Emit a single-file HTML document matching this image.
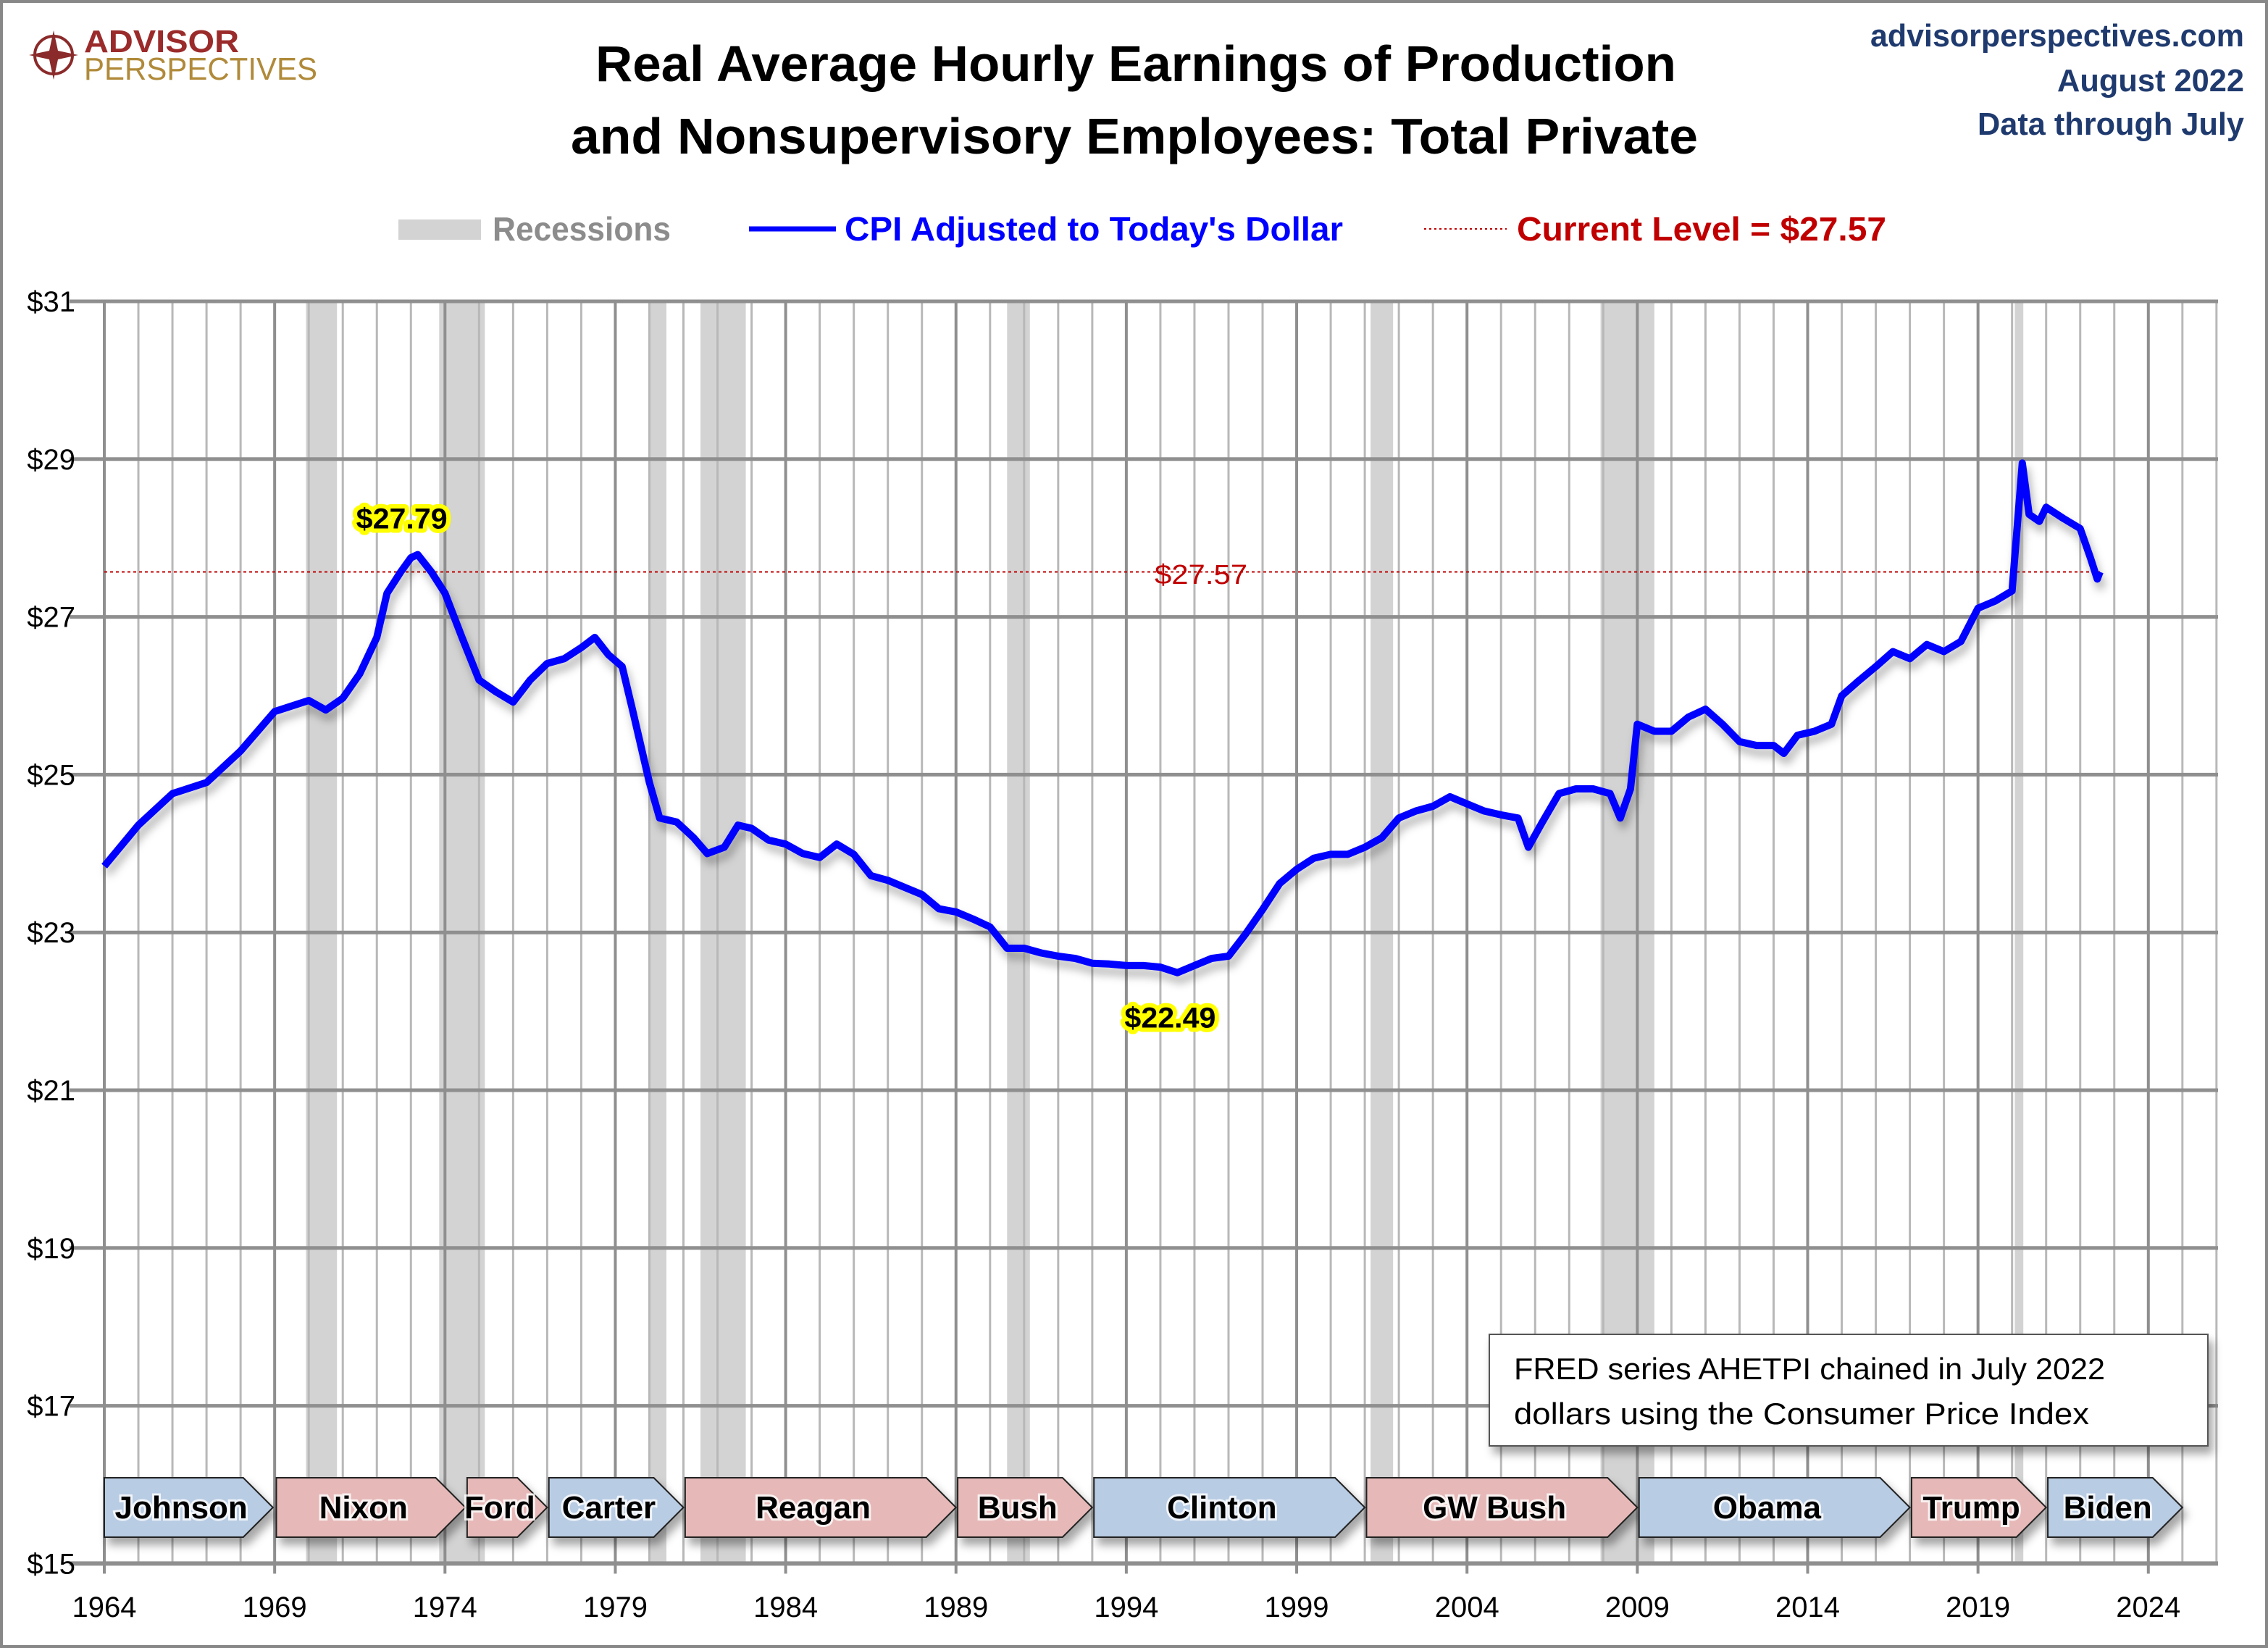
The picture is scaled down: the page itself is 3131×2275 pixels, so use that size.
<!DOCTYPE html>
<html><head><meta charset="utf-8"><style>
html,body{margin:0;padding:0;background:#fff;}
svg{display:block;font-family:"Liberation Sans",Arial,sans-serif;}
</style></head><body>
<svg id="chart" width="3131" height="2275" viewBox="0 0 3131 2275" xmlns="http://www.w3.org/2000/svg">
<defs>
<filter id="sh" x="-10%" y="-10%" width="130%" height="140%"><feDropShadow dx="6" dy="10" stdDeviation="6" flood-color="#000" flood-opacity="0.35"/></filter>
<filter id="lsh" x="-5%" y="-5%" width="110%" height="120%"><feDropShadow dx="4" dy="10" stdDeviation="6" flood-color="#000" flood-opacity="0.3"/></filter>
</defs>
<rect x="2" y="2" width="3127" height="2271" fill="#fff" stroke="#888" stroke-width="4"/>
<g id="logo">
<circle cx="74" cy="76" r="26" fill="none" stroke="#8B2A2A" stroke-width="4"/>
<polygon points="74,42 80,70 108,76 80,82 74,110 68,82 40,76 68,70" fill="#8B2A2A"/>
<text x="116" y="72" font-size="44" font-weight="bold" fill="#9B2B2B" textLength="214" lengthAdjust="spacingAndGlyphs">ADVISOR</text>
<text x="116" y="110" font-size="44" fill="#B08A3A" textLength="322" lengthAdjust="spacingAndGlyphs">PERSPECTIVES</text>
</g>
<g font-weight="bold" font-size="70" fill="#000" text-anchor="middle">
<text x="1568" y="112" textLength="1492" lengthAdjust="spacingAndGlyphs">Real Average Hourly Earnings of Production</text>
<text x="1566" y="212" textLength="1556" lengthAdjust="spacingAndGlyphs">and Nonsupervisory Employees: Total Private</text>
</g>
<g font-weight="bold" font-size="44" fill="#1F3A6E" text-anchor="end">
<text x="3098" y="64" textLength="516" lengthAdjust="spacingAndGlyphs">advisorperspectives.com</text>
<text x="3098" y="126" textLength="258" lengthAdjust="spacingAndGlyphs">August 2022</text>
<text x="3098" y="186" textLength="368" lengthAdjust="spacingAndGlyphs">Data through July</text>
</g>
<g font-weight="bold" font-size="46">
<rect x="550" y="303" width="114" height="28" fill="#D3D3D3"/>
<text x="680" y="332" fill="#8C8C8C" textLength="246" lengthAdjust="spacingAndGlyphs">Recessions</text>
<line x1="1034" y1="316" x2="1154" y2="316" stroke="#0000FF" stroke-width="7"/>
<text x="1166" y="332" fill="#0000FF" textLength="688" lengthAdjust="spacingAndGlyphs">CPI Adjusted to Today's Dollar</text>
<line x1="1966" y1="316" x2="2080" y2="316" stroke="#C00000" stroke-width="2" stroke-dasharray="3,4"/>
<text x="2094" y="332" fill="#C00000" textLength="510" lengthAdjust="spacingAndGlyphs">Current Level = $27.57</text>
</g>
<g id="recG"></g>
<g id="gridG"></g>
<g id="axisG"></g>
<g id="presG"></g>
<g id="lineG"></g>
<g id="annG"></g>
</svg>
<script>
const NS="http://www.w3.org/2000/svg";
const years=[1964.0,1965.0,1966.0,1967.0,1968.0,1969.0,1970.0,1970.5,1971.0,1971.5,1972.0,1972.3,1972.7,1973.0,1973.2,1973.6,1974.0,1974.5,1975.0,1975.5,1976.0,1976.5,1977.0,1977.5,1978.0,1978.4,1978.8,1979.2,1979.5,1980.0,1980.3,1980.8,1981.3,1981.7,1982.2,1982.6,1983.0,1983.5,1984.0,1984.5,1985.0,1985.5,1986.0,1986.5,1987.0,1987.5,1988.0,1988.5,1989.0,1989.5,1990.0,1990.5,1991.0,1991.5,1992.0,1992.5,1993.0,1993.5,1994.0,1994.5,1995.0,1995.5,1996.0,1996.5,1997.0,1997.5,1998.0,1998.5,1999.0,1999.5,2000.0,2000.5,2001.0,2001.5,2002.0,2002.5,2003.0,2003.5,2004.0,2004.5,2005.0,2005.5,2005.8,2006.2,2006.7,2007.2,2007.7,2008.2,2008.5,2008.8,2009.0,2009.5,2010.0,2010.5,2011.0,2011.5,2012.0,2012.5,2013.0,2013.3,2013.7,2014.2,2014.7,2015.0,2015.5,2016.0,2016.5,2017.0,2017.5,2018.0,2018.5,2019.0,2019.5,2020.0,2020.3,2020.5,2020.8,2021.0,2021.5,2022.0,2022.3,2022.5,2022.58];
const wages=[23.84,24.36,24.76,24.9,25.3,25.8,25.94,25.82,25.97,26.28,26.74,27.3,27.57,27.75,27.79,27.57,27.3,26.74,26.2,26.05,25.92,26.2,26.41,26.47,26.61,26.74,26.52,26.37,25.83,24.9,24.45,24.4,24.2,24.0,24.08,24.36,24.32,24.17,24.12,24.0,23.95,24.12,23.99,23.72,23.66,23.57,23.48,23.3,23.26,23.17,23.07,22.8,22.8,22.74,22.7,22.67,22.61,22.6,22.58,22.58,22.56,22.49,22.58,22.67,22.7,22.98,23.29,23.62,23.8,23.94,23.99,23.99,24.08,24.2,24.45,24.54,24.6,24.72,24.63,24.54,24.49,24.45,24.08,24.39,24.76,24.82,24.82,24.76,24.45,24.82,25.64,25.55,25.55,25.73,25.83,25.64,25.42,25.37,25.37,25.27,25.5,25.55,25.64,26.0,26.19,26.37,26.56,26.47,26.65,26.56,26.69,27.11,27.2,27.33,28.95,28.3,28.21,28.39,28.25,28.12,27.75,27.48,27.57];
const yTicks=[15,17,19,21,23,25,27,29,31];
const xTickYears=[1964,1969,1974,1979,1984,1989,1994,1999,2004,2009,2014,2019,2024];
const recStart=[1969.92,1973.83,1980.0,1981.5,1990.5,2001.17,2007.92,2020.08];
const recEnd=[1970.83,1975.17,1980.5,1982.83,1991.17,2001.83,2009.5,2020.33];
const presNames=["Johnson","Nixon","Ford","Carter","Reagan","Bush","Clinton","GW Bush","Obama","Trump","Biden"];
const presStart=[1964.0,1969.05,1974.65,1977.05,1981.05,1989.05,1993.05,2001.05,2009.05,2017.05,2021.05];
const presEnd=[1968.95,1974.6,1977.0,1981.0,1989.0,1993.0,2001.0,2009.0,2017.0,2021.0,2025.0];
const presParty=["D","R","R","D","R","R","D","R","D","R","D"];
const currentLevel=27.57;
const peakValue=27.79, peakYear=1973.2;
const lowValue=22.49, lowYear=1995.5;

const X0=144, PX=47.03, Y31=416, PY=108.9;
const x=y=>X0+(y-1964)*PX;
const yv=v=>Y31+(31-v)*PY;
function mk(tag,attrs,parent){const e=document.createElementNS(NS,tag);for(const k in attrs)e.setAttribute(k,attrs[k]);parent.appendChild(e);return e;}
const recG=document.getElementById('recG'),gridG=document.getElementById('gridG'),axisG=document.getElementById('axisG'),presG=document.getElementById('presG'),lineG=document.getElementById('lineG'),annG=document.getElementById('annG');
recStart.forEach((s,i)=>{const r=mk('rect',{x:x(s),y:yv(31),width:x(recEnd[i])-x(s),height:yv(15)-yv(31),fill:'#D3D3D3'},recG);

});
for(let yr=1964;yr<=2026;yr++){const major=(yr-1964)%5===0;const l=mk('line',{x1:x(yr),x2:x(yr),y1:yv(31),y2:yv(15),stroke:major?'#8f8f8f':'#b8b8b8','stroke-width':major?4:3},gridG);

}
yTicks.forEach(v=>{const l=mk('line',{x1:96,x2:3062,y1:yv(v),y2:yv(v),stroke:'#8f8f8f','stroke-width':v===15?6:5},gridG);


const t=mk('text',{x:104,y:yv(v)+14,'text-anchor':'end','font-size':40,fill:'#000'},axisG);t.textContent='$'+v;

});
xTickYears.forEach(yr=>{mk('line',{x1:x(yr),x2:x(yr),y1:yv(15),y2:yv(15)+14,stroke:'#8f8f8f','stroke-width':4},axisG);
const t=mk('text',{x:x(yr),y:2232,'text-anchor':'middle','font-size':40,fill:'#000'},axisG);t.textContent=yr;

});
presNames.forEach((n,i)=>{const x1=x(presStart[i]),x2=x(presEnd[i]),tip=41,top=2040,bot=2122,mid=(top+bot)/2;
const g=mk('g',{},presG);


mk('polygon',{points:`${x1},${top} ${x2-tip},${top} ${x2},${mid} ${x2-tip},${bot} ${x1},${bot}`,fill:presParty[i]==='D'?'#B8CCE4':'#E6B9B8',stroke:'#222','stroke-width':2,filter:'url(#sh)'},g);
const t=mk('text',{x:(x1+x2-tip/2)/2,y:mid+15,'text-anchor':'middle','font-size':44,'font-weight':'bold',fill:'#000',stroke:'#fff','stroke-width':6,'paint-order':'stroke','stroke-opacity':0.8},g);t.textContent=n;});
const cl=mk('line',{x1:x(1964),x2:x(years[years.length-1]),y1:yv(currentLevel),y2:yv(currentLevel),stroke:'#C00000','stroke-width':2,'stroke-dasharray':'4,4'},lineG);


const d=years.map((yr,i)=>(i?'L':'M')+x(yr).toFixed(1)+','+yv(wages[i]).toFixed(1)).join(' ');
const p=mk('path',{d:d,fill:'none',stroke:'#0000FF','stroke-width':10,'stroke-linejoin':'round',filter:'url(#lsh)'},lineG);


function glow(txt,cx,cy,name){const t=mk('text',{x:cx,y:cy,'text-anchor':'middle','font-size':40,'font-weight':'bold',fill:'#000',stroke:'#FFFF00','stroke-width':12,'paint-order':'stroke','stroke-linejoin':'round',textLength:126,lengthAdjust:'spacingAndGlyphs'},annG);t.textContent=txt;

}
glow('$'+peakValue.toFixed(2),x(peakYear)-22,yv(peakValue)-36,'peak-label');
glow('$'+lowValue.toFixed(2),x(lowYear)-10,yv(lowValue)+76,'low-label');
const cv=mk('text',{x:1658,y:806,'text-anchor':'middle','font-size':38,fill:'#C00000',textLength:128,lengthAdjust:'spacingAndGlyphs'},annG);cv.textContent='$'+currentLevel.toFixed(2);


const nb=mk('g',{},annG);


mk('rect',{x:2056,y:1842,width:992,height:154,fill:'#fff',stroke:'#555','stroke-width':2,filter:'url(#sh)'},nb);
const n1=mk('text',{x:2090,y:1904,'font-size':42,fill:'#000',textLength:816,lengthAdjust:'spacingAndGlyphs'},nb);n1.textContent='FRED series AHETPI chained in July 2022';
const n2=mk('text',{x:2090,y:1966,'font-size':42,fill:'#000',textLength:794,lengthAdjust:'spacingAndGlyphs'},nb);n2.textContent='dollars using the Consumer Price Index';
</script>
</body></html>
